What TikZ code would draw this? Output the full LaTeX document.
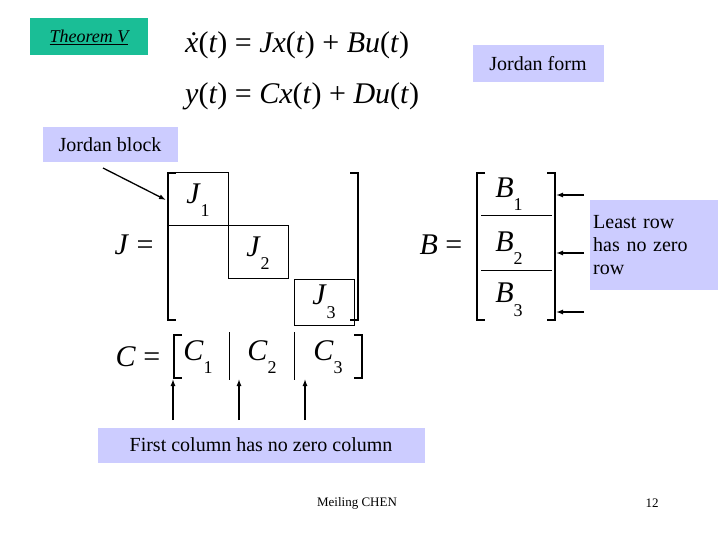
\documentclass[tikz,border=0pt]{standalone}
\usepackage{fontspec}
\setmainfont{Liberation Serif}
\usetikzlibrary{arrows.meta}
\newcommand{\mi}[1]{\textit{#1}}
\newcommand{\sbs}[1]{\raisebox{-0.45em}{\fontsize{18}{18}\selectfont #1}}
\begin{document}
\begin{tikzpicture}[x=1pt,y=-1pt,
  lav/.style={fill={rgb,255:red,204;green,204;blue,255},inner sep=3pt,font=\fontsize{20}{23}\selectfont,align=left},
  big/.style={font=\fontsize{30}{32}\selectfont,inner sep=0pt},
  blk/.style={draw,line width=0.7pt},
  brk/.style={line width=1.2pt},
  arr/.style={-{Latex[length=7pt,width=5pt]},line width=1.3pt}]
\useasboundingbox (0,0) rectangle (720,540);
\node[fill={rgb,255:red,26;green,190;blue,150},minimum width=118,minimum height=37,font=\fontsize{18}{20}\selectfont\itshape] (thm) at (89,37) {\underline{Theorem V}};
\node[big,anchor=west] (e1) at (185,45) {\mi{ẋ}(\mi{t}) = \mi{Jx}(\mi{t}) + \mi{Bu}(\mi{t})};
\node[big,anchor=west] (e2) at (185,96) {\mi{y}(\mi{t}) = \mi{Cx}(\mi{t}) + \mi{Du}(\mi{t})};
\node[lav,minimum width=131,minimum height=37] (jf) at (538,64) {Jordan form};
\node[lav,minimum width=135,minimum height=35] (jb) at (110,145) {Jordan block};
% J matrix
\node[big] (Jeq) at (134,245) {\mi{J} =};
\draw[brk] (176,173) -- (168,173) -- (168,320) -- (176,320);
\draw[brk] (350,173) -- (358,173) -- (358,320) -- (350,320);
\draw[blk] (168,172) rectangle (228,225);
\draw[blk] (228,225) rectangle (288,278);
\draw[blk] (294,279) rectangle (354,325);
\node[big] (J1) at (198,200) {\mi{J}\sbs{1}};
\node[big] (J2) at (258,253) {\mi{J}\sbs{2}};
\node[big] (J3) at (324,302) {\mi{J}\sbs{3}};
\coordinate (ja) at (103,168);
\draw[arr] (ja) -- (166,200);
% B matrix
\node[big] (Beq) at (441,245) {\mi{B} =};
\draw[brk] (485,173) -- (477,173) -- (477,320) -- (485,320);
\draw[brk] (547,173) -- (555,173) -- (555,320) -- (547,320);
\draw[line width=0.5pt] (481,215) -- (552,215) (481,270) -- (552,270);
\node[big] (B1) at (509,194) {\mi{B}\sbs{1}};
\node[big] (B2) at (509,248) {\mi{B}\sbs{2}};
\node[big] (B3) at (509,300) {\mi{B}\sbs{3}};
\node[lav,minimum width=128,minimum height=90,text width=122,anchor=north west] (lr) at (590,200) {Least row\\has no zero\\row};
\coordinate (r1) at (584,195); \coordinate (r2) at (584,253); \coordinate (r3) at (584,312);
\draw[arr] (r1) -- (556,195);
\draw[arr] (r2) -- (556,253);
\draw[arr] (r3) -- (556,312);
% C matrix
\node[big] (Ceq) at (138,357) {\mi{C} =};
\draw[brk] (182,335) -- (174,335) -- (174,378) -- (182,378);
\draw[brk] (354,335) -- (362,335) -- (362,378) -- (354,378);
\draw[line width=0.6pt] (229,332) -- (229,380) (294,332) -- (294,380);
\node[big] (C1) at (198,357) {\mi{C}\sbs{1}};
\node[big] (C2) at (262,357) {\mi{C}\sbs{2}};
\node[big] (C3) at (328,357) {\mi{C}\sbs{3}};
\node[lav,minimum width=327,minimum height=35] (fc) at (261,445) {First column has no zero column};
\coordinate (c1) at (173,420); \coordinate (c2) at (239,420); \coordinate (c3) at (305,420);
\draw[arr] (c1) -- (173,379);
\draw[arr] (c2) -- (239,379);
\draw[arr] (c3) -- (305,379);
\node[font=\fontsize{13}{14}\selectfont] (au) at (357,503) {Meiling CHEN};
\node[font=\fontsize{13}{14}\selectfont] (pg) at (652,503) {12};
\end{tikzpicture}
\end{document}
